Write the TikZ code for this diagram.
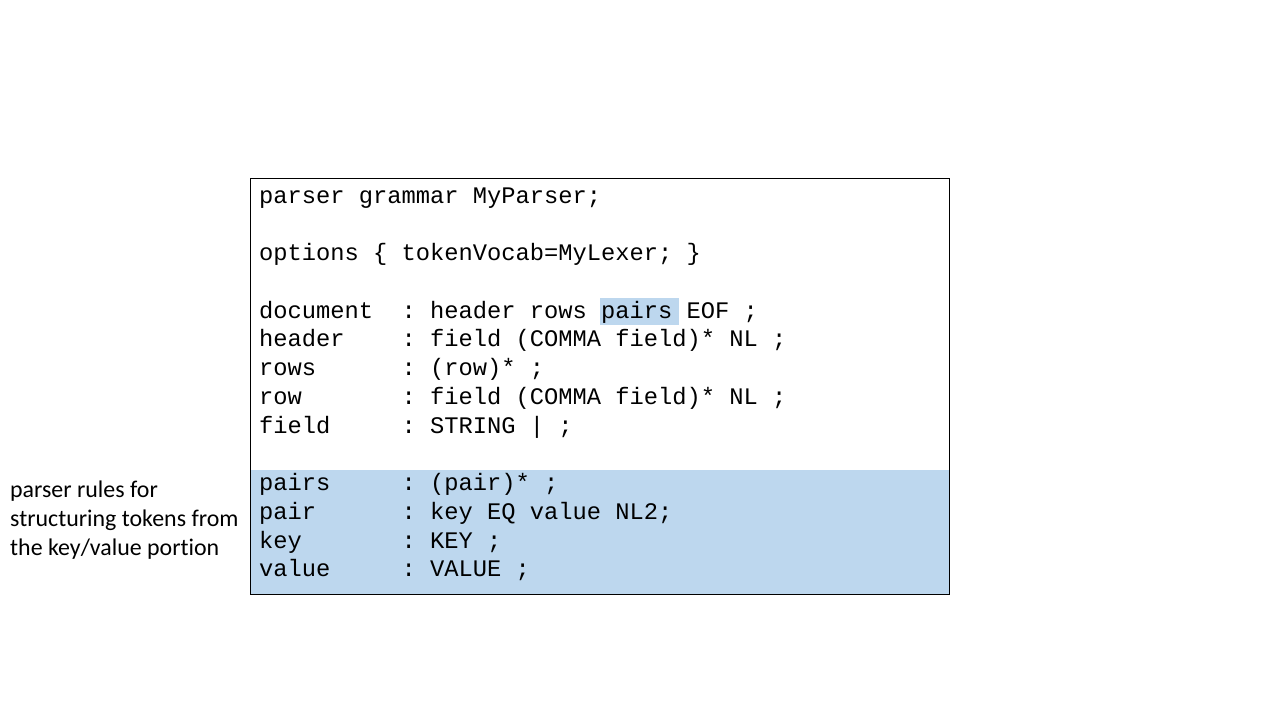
\documentclass[tikz,border=0pt]{standalone}
\usepackage{fontspec}
\newfontfamily\codefont{Liberation Mono}
\newfontfamily\notefont[Ligatures=NoCommon]{Carlito}
\definecolor{hl}{HTML}{BDD7EE}
\begin{document}
\begin{tikzpicture}[x=1pt,y=-1pt,
  codeline/.style={anchor=base west,inner sep=0pt,font=\codefont\fontsize{23.75}{28.75}\selectfont},
  noteline/.style={anchor=base west,inner sep=0pt,font=\notefont\fontsize{23.9}{29}\selectfont}]
\useasboundingbox (0,0) rectangle (1280,720);
% blue lower region and word highlight
\fill[hl] (250,470) rectangle (949,594);
\fill[hl] (600,298) rectangle (679,325);
\draw[black,line width=0.9pt] (250,178) rectangle (949,594);
\def\bx{259}
\node[codeline] (l0) at (\bx,203) {parser~grammar~MyParser;};
\node[codeline] (l2) at (\bx,260.5) {options~\{~tokenVocab=MyLexer;~\}};
\node[codeline] (l4) at (\bx,318) {document~~:~header~rows~pairs~EOF~;};
\node[codeline] (l5) at (\bx,346.75) {header~~~~:~field~(COMMA~field)*~NL~;};
\node[codeline] (l6) at (\bx,375.5) {rows~~~~~~:~(row)*~;};
\node[codeline] (l7) at (\bx,404.25) {row~~~~~~~:~field~(COMMA~field)*~NL~;};
\node[codeline] (l8) at (\bx,433) {field~~~~~:~STRING~|~;};
\node[codeline] (l10) at (\bx,490.5) {pairs~~~~~:~(pair)*~;};
\node[codeline] (l11) at (\bx,519.25) {pair~~~~~~:~key~EQ~value~NL2;};
\node[codeline] (l12) at (\bx,548) {key~~~~~~~:~KEY~;};
\node[codeline] (l13) at (\bx,576.75) {value~~~~~:~VALUE~;};
% side note
\node[noteline] (n1) at (10,497) {parser rules for};
\node[noteline] (n2) at (10,526) {structuring tokens from};
\node[noteline] (n3) at (10,555) {the key/value portion};
\end{tikzpicture}
\end{document}
